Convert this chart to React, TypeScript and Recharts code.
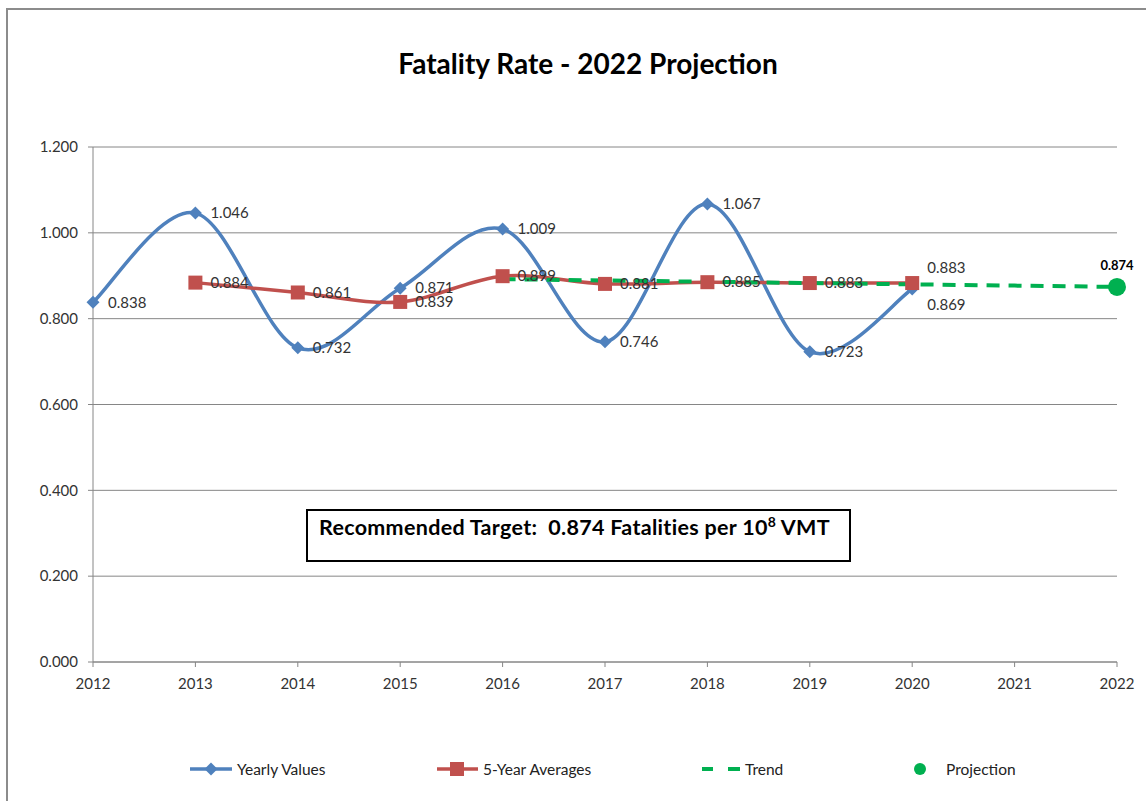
import { CartesianGrid, ComposedChart, LabelList, Line, XAxis, YAxis } from 'recharts';

const years = [2012, 2013, 2014, 2015, 2016, 2017, 2018, 2019, 2020, 2021, 2022];
const yearlyValues = [0.838, 1.046, 0.732, 0.871, 1.009, 0.746, 1.067, 0.723, 0.869, null, null];
const fiveYearAverages = [null, 0.884, 0.861, 0.839, 0.899, 0.881, 0.885, 0.883, 0.883, null, null];
const trendValues = [null, null, null, null, 0.892, 0.889, 0.886, 0.883, 0.88, 0.877, 0.874];
const projectionValues = [null, null, null, null, null, null, null, null, null, null, 0.874];
const yTicks = [0, 0.2, 0.4, 0.6, 0.8, 1.0, 1.2];

const data = years.map((year, i) => ({
  year,
  yearly: yearlyValues[i],
  avg: fiveYearAverages[i],
  trend: trendValues[i],
  projection: projectionValues[i],
}));

const BLUE = '#4F81BD';
const RED = '#C0504D';
const GREEN = '#00B050';
const AXIS = '#868686';
const TEXT = '#333333';
const FONT = 'Lato, "Open Sans", sans-serif';

/** Excel-style smoothed line: cubic bezier with control points at 1/6 of neighbour span. */
function excelCurve(ctx: any) {
  let pts: [number, number][] = [];
  return {
    areaStart() {},
    areaEnd() {},
    lineStart() {
      pts = [];
    },
    point(x: number, y: number) {
      pts.push([+x, +y]);
    },
    lineEnd() {
      if (!pts.length) return;
      ctx.moveTo(pts[0][0], pts[0][1]);
      for (let i = 0; i < pts.length - 1; i++) {
        const p0 = pts[i - 1] || pts[i];
        const p1 = pts[i];
        const p2 = pts[i + 1];
        const p3 = pts[i + 2] || p2;
        ctx.bezierCurveTo(
          p1[0] + (p2[0] - p0[0]) / 6,
          p1[1] + (p2[1] - p0[1]) / 6,
          p2[0] - (p3[0] - p1[0]) / 6,
          p2[1] - (p3[1] - p1[1]) / 6,
          p2[0],
          p2[1],
        );
      }
    },
  };
}

function Diamond({ cx, cy }: { cx: number; cy: number }) {
  const s = 6.5;
  return <polygon points={`${cx},${cy - s} ${cx + s},${cy} ${cx},${cy + s} ${cx - s},${cy}`} fill={BLUE} />;
}

function Square({ cx, cy }: { cx: number; cy: number }) {
  return <rect x={cx - 7} y={cy - 7} width={14} height={14} fill={RED} />;
}

const labelStyle = { fontFamily: FONT, fontSize: 15, fill: TEXT };

function sideLabel(offsets: Record<number, number>) {
  return (p: any) => {
    if (p.value == null) return null;
    const dy = offsets[p.index] ?? 0;
    return (
      <text x={p.x + 15} y={p.y + dy} dy="0.35em" {...labelStyle}>
        {Number(p.value).toFixed(3)}
      </text>
    );
  };
}

function LegendRow() {
  const item = (left: number, sample: React.ReactNode, label: string, textLeft: number) => (
    <div style={{ position: 'absolute', left, top: 0, height: 24 }}>
      <svg width={60} height={24} style={{ position: 'absolute', left: 0, top: 0 }}>
        {sample}
      </svg>
      <span style={{ position: 'absolute', left: textLeft, top: 3, whiteSpace: 'nowrap' }}>{label}</span>
    </div>
  );
  return (
    <div style={{ position: 'absolute', left: 0, top: 757, width: 1146, fontFamily: FONT, fontSize: 15.5, color: '#222' }}>
      {item(
        189,
        <>
          <line x1={1} y1={12} x2={43} y2={12} stroke={BLUE} strokeWidth={3.5} />
          <Diamond cx={22} cy={12} />
        </>,
        'Yearly Values',
        48,
      )}
      {item(
        436,
        <>
          <line x1={1} y1={12} x2={42} y2={12} stroke={RED} strokeWidth={3.5} />
          <Square cx={21} cy={12} />
        </>,
        '5-Year Averages',
        47,
      )}
      {item(
        700,
        <>
          <line x1={2} y1={12} x2={13} y2={12} stroke={GREEN} strokeWidth={4} />
          <line x1={28} y1={12} x2={40} y2={12} stroke={GREEN} strokeWidth={4} />
        </>,
        'Trend',
        45,
      )}
      {item(
        913,
        <>
          <circle cx={7} cy={12} r={6} fill={GREEN} />
        </>,
        'Projection',
        33,
      )}
    </div>
  );
}

export default function App() {
  return (
    <div style={{ position: 'absolute', left: 0, top: 0, width: 1146, height: 801, background: '#fff', overflow: 'hidden' }}>
      <div
        style={{
          position: 'absolute',
          left: 6,
          top: 8,
          width: 1140,
          height: 793,
          borderLeft: '2px solid #8C8C8C',
          borderTop: '2px solid #8C8C8C',
        }}
      />
      <div
        style={{
          position: 'absolute',
          left: 0,
          top: 46,
          width: 1176,
          textAlign: 'center',
          fontFamily: FONT,
          fontWeight: 700,
          fontSize: 28,
          color: '#000',
        }}
      >
        Fatality Rate - 2022 Projection
      </div>
      <ComposedChart
        width={1146}
        height={801}
        data={data}
        margin={{ top: 147, right: 29, left: 33, bottom: 109 }}
        style={{ position: 'absolute', left: 0, top: 0 }}
      >
        <CartesianGrid vertical={false} stroke={AXIS} />
        <XAxis
          dataKey="year"
          type="number"
          domain={[2012, 2022]}
          ticks={years}
          allowDecimals={false}
          stroke={AXIS}
          tickSize={5}
          tickMargin={11}
          height={30}
          tick={{ fill: TEXT, fontSize: 15, fontFamily: FONT }}
        />
        <YAxis
          type="number"
          domain={[0, 1.2]}
          ticks={yTicks}
          width={60}
          stroke={AXIS}
          tickSize={5}
          tickMargin={10}
          tickFormatter={(v: number) => v.toFixed(3)}
          tick={{ fill: TEXT, fontSize: 15, fontFamily: FONT }}
        />
        <Line
          dataKey="yearly"
          type={excelCurve as any}
          stroke={BLUE}
          strokeWidth={3.5}
          dot={(p: any) => (p.value == null ? <g key={p.index} /> : <Diamond key={p.index} cx={p.cx} cy={p.cy} />)}
          activeDot={false}
          isAnimationActive={false}
        >
          <LabelList dataKey="yearly" content={sideLabel({ 8: 16 })} />
        </Line>
        <Line
          dataKey="avg"
          type={excelCurve as any}
          stroke={RED}
          strokeWidth={3.5}
          dot={(p: any) => (p.value == null ? <g key={p.index} /> : <Square key={p.index} cx={p.cx} cy={p.cy} />)}
          activeDot={false}
          isAnimationActive={false}
        >
          <LabelList dataKey="avg" content={sideLabel({ 8: -15 })} />
        </Line>
        <Line
          dataKey="trend"
          type="linear"
          stroke={GREEN}
          strokeWidth={4}
          strokeDasharray="13 9"
          dot={false}
          activeDot={false}
          isAnimationActive={false}
        />
        <Line
          dataKey="projection"
          type="linear"
          stroke="none"
          dot={{ r: 9, fill: GREEN, stroke: GREEN, strokeWidth: 0 }}
          activeDot={false}
          isAnimationActive={false}
        >
          <LabelList
            dataKey="projection"
            content={(p: any) =>
              p.value == null ? null : (
                <text
                  x={p.x}
                  y={p.y - 17}
                  textAnchor="middle"
                  fontFamily={FONT}
                  fontSize={13}
                  fontWeight={700}
                  fill="#000"
                >
                  {Number(p.value).toFixed(3)}
                </text>
              )
            }
          />
        </Line>
      </ComposedChart>
      <div
        style={{
          position: 'absolute',
          left: 306,
          top: 509,
          width: 541,
          height: 49,
          border: '2px solid #000',
          background: '#fff',
          fontFamily: FONT,
          fontWeight: 700,
          fontSize: 21.5,
          color: '#000',
          boxSizing: 'content-box',
        }}
      >
        <div style={{ position: 'absolute', left: 11, top: 2, whiteSpace: 'nowrap', letterSpacing: 0.3 }}>
          Recommended Target:&nbsp; 0.874 Fatalities per 10<sup style={{ fontSize: 14 }}>8</sup> VMT
        </div>
      </div>
      <LegendRow />
    </div>
  );
}
